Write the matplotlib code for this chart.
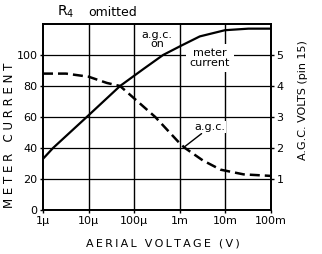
import matplotlib
matplotlib.use('Agg')
import matplotlib.pyplot as plt

# meter current (left scale) vs aerial voltage
meter_v = [1e-6, 1.66e-6, 9.1e-6, 4.9e-5, 1.6e-4, 4.3e-4, 1.07e-3, 2.75e-3, 9.8e-3, 3.2e-2, 1e-1]
meter_i = [33, 40, 60, 80, 91, 100, 106, 112, 116, 117, 117]

# a.g.c. volts, drawn on the left scale (x20)
agc_v = [1e-6, 3.2e-6, 1e-5, 2.5e-5, 4.9e-5, 1e-4, 2.9e-4, 1e-3, 1.3e-3, 3.2e-3, 7.9e-3, 2.5e-2, 1e-1]
agc_i = [88, 88, 86, 82, 80, 72, 60, 43, 40, 32, 26, 23, 22]

x_ticks = [1e-6, 1e-5, 1e-4, 1e-3, 1e-2, 1e-1]
x_labels = ['1\u00b5', '10\u00b5', '100\u00b5', '1m', '10m', '100m']
left_ticks = [0, 20, 40, 60, 80, 100]
right_ticks = [1, 2, 3, 4, 5]


def spaced(s, sep='\u2009'):
    return sep.join(s)


fig = plt.figure(figsize=(3.22, 2.54), dpi=100)
ax = fig.add_axes([0.1335, 0.1732, 0.708, 0.7323])

ax.set_xscale('log')
ax.set_xlim(1e-6, 1e-1)
ax.set_ylim(0, 120)
ax.set_xticks(x_ticks)
ax.set_xticklabels(x_labels)
ax.minorticks_off()
ax.set_yticks(left_ticks)
ax.tick_params(labelsize=8, length=2.5, width=1, pad=1.5, colors='black')

for v in x_ticks[1:-1]:
    ax.axvline(v, color='black', lw=1.0, zorder=1)
for y in left_ticks[1:]:
    ax.axhline(y, color='black', lw=0.9, zorder=1)
for s in ax.spines.values():
    s.set_linewidth(1.3)

ax.plot(meter_v, meter_i, color='black', lw=1.6, zorder=4)
ax.plot(agc_v, agc_i, color='black', lw=1.8, dashes=(4, 2), zorder=4)

ax.text(3.2e-4, 110, 'a.g.c.\non', ha='center', va='center', fontsize=8,
        linespacing=0.95, zorder=3)
ax.text(4.6e-3, 98, 'meter\ncurrent', ha='center', va='center', fontsize=8,
        linespacing=0.95, zorder=3,
        bbox=dict(facecolor='white', edgecolor='none', pad=3))
ax.annotate('a.g.c.', xy=(1.3e-3, 41), xytext=(4.6e-3, 53.5), ha='center', va='center',
            fontsize=8, zorder=3,
            bbox=dict(facecolor='white', edgecolor='none', pad=0.5),
            arrowprops=dict(arrowstyle='-', color='black', lw=1, shrinkA=1, shrinkB=0))

ax2 = ax.twinx()
ax2.set_ylim(0, 6)
ax2.set_yticks(right_ticks)
ax2.tick_params(labelsize=8, length=2.5, width=1, pad=1.5)
for s in ax2.spines.values():
    s.set_linewidth(1.3)

fig.text(10 / 322, 1 - 135 / 254, spaced('METER CURRENT', ' '), rotation=90,
         ha='center', va='center', fontsize=8.5)
fig.text(303 / 322, 1 - 100 / 254, 'A.G.C. VOLTS (pin 15)', rotation=90,
         ha='center', va='center', fontsize=8)
fig.text(163 / 322, 1 - 244 / 254, spaced('AERIAL VOLTAGE (V)'),
         ha='center', va='center', fontsize=8)
fig.text(57 / 322, 1 - 12 / 254, 'R$_4$', ha='left', va='center', fontsize=10)
fig.text(88 / 322, 1 - 12 / 254, 'omitted', ha='left', va='center', fontsize=9)

fig.savefig('out.png', dpi=100)
